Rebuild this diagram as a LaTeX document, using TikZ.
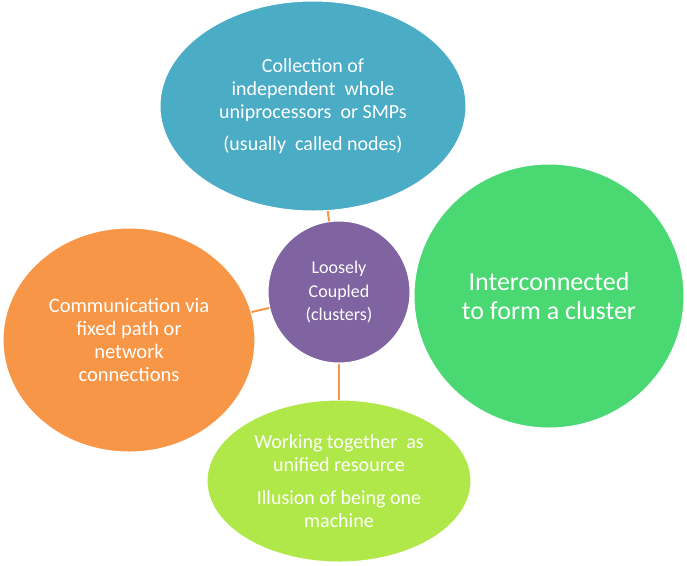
\documentclass[tikz,border=0pt]{standalone}
\usepackage{fontspec}
\setmainfont{Carlito}
\usetikzlibrary{shapes.geometric}
\definecolor{cblue}{HTML}{4BACC6}
\definecolor{cpurple}{HTML}{8064A2}
\definecolor{cgreen}{HTML}{4AD873}
\definecolor{corange}{HTML}{F79646}
\definecolor{clime}{HTML}{B0E84A}
\begin{document}
\begin{tikzpicture}[x=1pt,y=-1pt,
  blob/.style={ellipse,draw=white,line width=1pt,text=white,align=center,inner sep=0pt},
  link/.style={draw=corange,line width=2pt}]
\useasboundingbox (0,0) rectangle (687,565);
\node[blob,fill=cblue,minimum width=306,minimum height=210,font=\fontsize{20}{23}\selectfont] (top) at (313,106)
  {Collection of\\independent\ \ whole\\uniprocessors\ \ or SMPs\\[9pt](usually\ \ called nodes)};
\node[blob,fill=cgreen,minimum width=270,minimum height=264,font=\fontsize{26}{29}\selectfont] (right) at (549,296)
  {Interconnected\\to form a cluster};
\node[blob,fill=corange,minimum width=252,minimum height=224,font=\fontsize{20.5}{23.3}\selectfont] (left) at (129,340)
  {Communication via\\fixed path or\\network\\connections};
\node[blob,fill=clime,minimum width=264,minimum height=162,font=\fontsize{20}{23}\selectfont] (bot) at (339,481)
  {Working together\ \ as\\unified resource\\[10pt]Illusion of being one\\machine};
\node[blob,fill=cpurple,minimum width=142,minimum height=142,font=\fontsize{18}{23.5}\selectfont] (mid) at (339,292)
  {Loosely\\Coupled\\(clusters)};
\draw[link] (mid) -- (top);
\draw[link] (mid) -- (left);
\draw[link] (mid) -- (bot);
\end{tikzpicture}
\end{document}
